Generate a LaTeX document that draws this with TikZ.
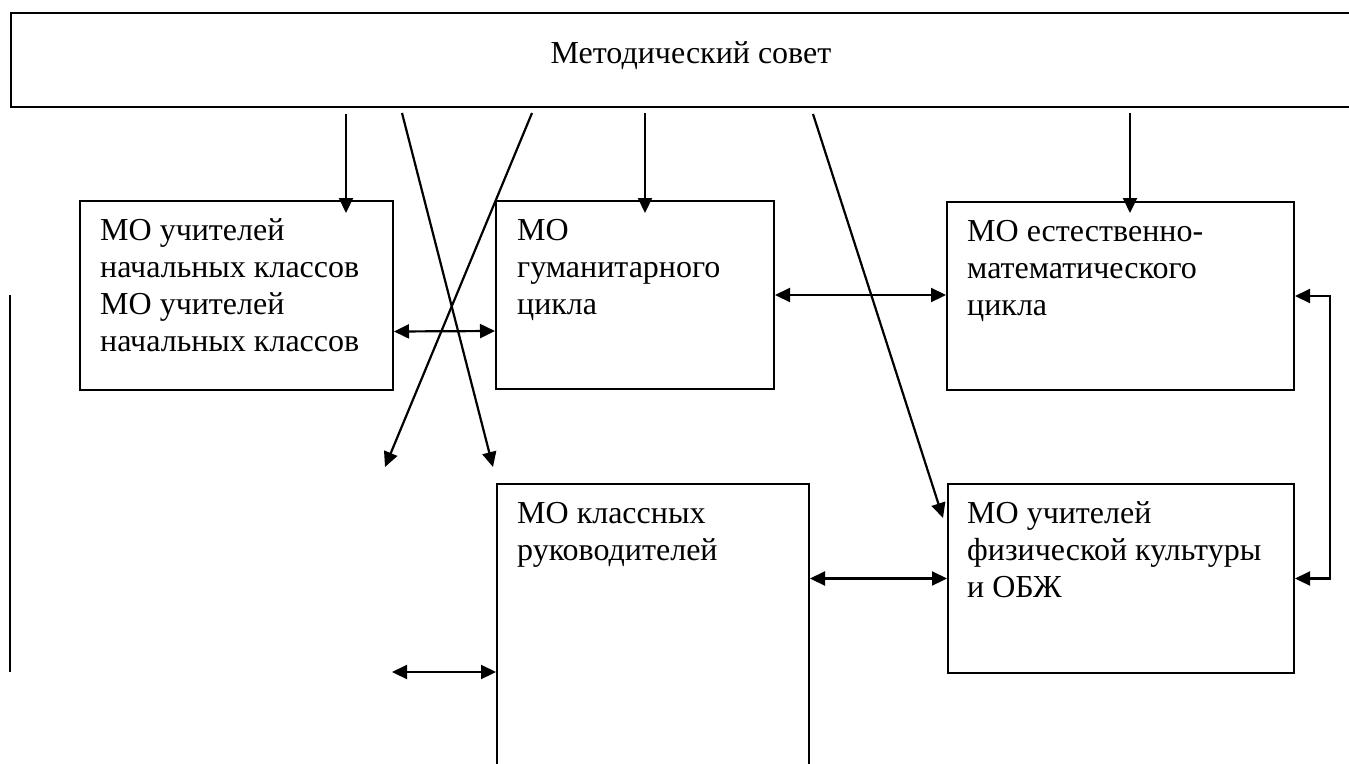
\documentclass[tikz,border=0pt]{standalone}
\usepackage{fontspec}
\setmainfont{Liberation Serif}
\usepackage{tikz}
\usetikzlibrary{calc}
\usetikzlibrary {arrows.meta}

\begin{document}
\begin{tikzpicture}[x=1pt,y=-1pt]
%
\tikzstyle{mobox}=[draw,shape=rectangle,line width=2pt,anchor=north west,inner sep=0pt]
\tikzstyle{motxt}=[anchor=base west,align=left,inner sep=0pt,font=\fontsize{32}{37}\selectfont]
\tikzstyle{arr}=[line width=2.2pt,-{Triangle[length=15pt,width=14pt]}]
\tikzstyle{arrb}=[line width=2.2pt,{Triangle[length=15pt,width=14pt]}-{Triangle[length=15pt,width=14pt]}]
%
\clip (0,0) rectangle (1349,763);
%
\node[mobox,minimum width=1380pt,minimum height=94pt](sovet) at (10,12){};
\node[anchor=base,inner sep=0pt,font=\fontsize{32}{37}\selectfont](sovettxt) at (691,63){Методический совет};
%
\node[mobox,minimum width=313pt,minimum height=189pt](nach) at (79,200){};
\node[motxt](nachtxt) at ([xshift=21pt,yshift=-151pt]nach.north west){МО учителей\\начальных классов\\МО учителей\\начальных классов};
\node[mobox,minimum width=278pt,minimum height=188pt](gum) at (495,200){};
\node[motxt](gumtxt) at ([xshift=22pt,yshift=-114pt]gum.north west){МО\\гуманитарного\\цикла};
\node[mobox,minimum width=347pt,minimum height=188pt](estmat) at (946,201){};
\node[motxt](estmattxt) at ([xshift=21pt,yshift=-114pt]estmat.north west){МО естественно-\\математического\\цикла};
%
\node[mobox,minimum width=312pt,minimum height=320pt](klass) at (496,483){};
\node[motxt](klasstxt) at ([xshift=21pt,yshift=-77pt]klass.north west){МО классных\\руководителей};
\node[mobox,minimum width=346pt,minimum height=189pt](fiz) at (947,483){};
\node[motxt](fiztxt) at ([xshift=20pt,yshift=-114pt]fiz.north west){МО учителей\\физической культуры\\и ОБЖ};
%
\coordinate (s1) at (346,114);
\coordinate (s2) at (402,113);
\coordinate (s3) at (532,113);
\coordinate (s4) at (645,113);
\coordinate (s5) at (813,114);
\coordinate (s6) at (1130,113);
\coordinate (e1) at (346,213);
\coordinate (e2) at (493,467);
\coordinate (e3) at (385,467);
\coordinate (e4) at (645,213);
\coordinate (e5) at (943,518);
\coordinate (e6) at (1130,213);
\coordinate (lfree) at (392,672);
\coordinate (ltop) at (10,295);
\coordinate (lbot) at (10,672);
%
\draw[arr] (s1) -- (e1);
\draw[arr] (s2) -- (e2);
\draw[arr] (s3) -- (e3);
\draw[arr] (s4) -- (e4);
\draw[arr] (s5) -- (e5);
\draw[arr] (s6) -- (e6);
%
\draw[arrb] ([yshift=-36pt]nach.east) -- ([yshift=-36pt]gum.west);
\draw[arrb] (gum.east) -- (estmat.west |- gum.east);
\draw[arrb] (klass.east |- fiz.west) -- (fiz.west);
\draw[arrb] (lfree) -- (klass.west |- lfree);
\draw[arrb] (estmat.east) -- ++(35,0) |- (fiz.east);
\draw[line width=2pt] (ltop) -- (lbot);
\end{tikzpicture}
\end{document}
